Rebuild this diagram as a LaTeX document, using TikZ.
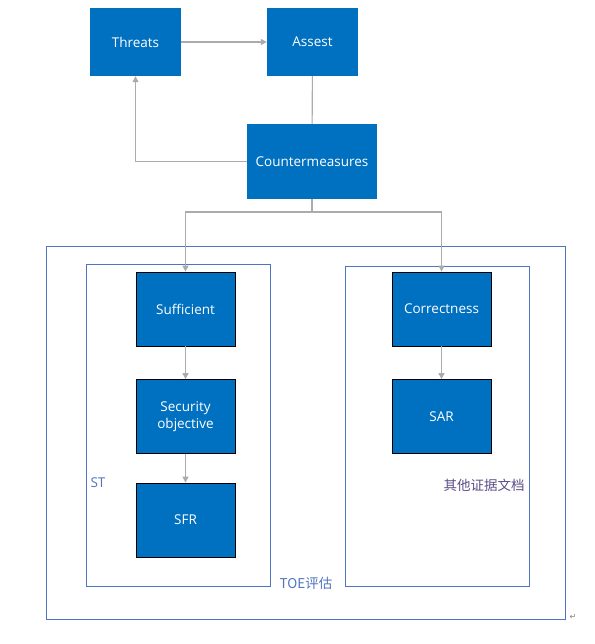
\documentclass[tikz,border=0pt]{standalone}
\usepackage{fontspec}
\setmainfont{Open Sans}
\newfontfamily\cjk{Noto Sans CJK SC}
\newfontfamily\symfont{DejaVu Sans}
\usetikzlibrary{arrows.meta}

\definecolor{boxblue}{HTML}{0070C0}
\definecolor{frameblue}{HTML}{4F74C0}
\definecolor{linegrey}{HTML}{ABABAB}
\definecolor{notepurple}{HTML}{5B4E86}

\begin{document}
\begin{tikzpicture}[x=1pt,y=-1pt,font=\fontsize{13.5}{17}\selectfont]
	\tikzstyle{box}   = [rectangle,fill=boxblue,text=white,minimum width=91pt,minimum height=68pt,inner sep=2pt,align=center]
	\tikzstyle{part}  = [box,draw=black,line width=0.8pt,minimum width=99pt,minimum height=74pt]
	\tikzstyle{frame} = [rectangle,draw=frameblue,line width=1pt]
	\tikzstyle{lbl}   = [text=frameblue,inner sep=1pt]
	\tikzstyle{line}  = [draw=linegrey,line width=1.1pt]
	\tikzstyle{conn}  = [line,-{Triangle[length=6pt,width=6pt]}]

	\useasboundingbox (0,0) rectangle (594,644);

	% frames
	\node[frame,minimum width=519pt,minimum height=373pt] (toe) at (305.5,432.5) {};
	\node[frame,minimum width=184pt,minimum height=322pt] (st) at (178,425) {};
	\node[frame,minimum width=184pt,minimum height=320pt] (other) at (437,426) {};

	% top boxes
	\node[box] (threats) at (135.5,42) {Threats};
	\node[box] (assest) at (312.5,42) {Assest};
	\node[box,minimum width=130pt,minimum height=75pt] (counter) at (312,161.5) {Countermeasures};

	% inner boxes
	\node[part] (suff) at (185.5,309) {Sufficient};
	\node[part] (secobj) at (185.5,416.5) {Security\\objective};
	\node[part] (sfr) at (185.5,520) {SFR};
	\node[part] (correct) at (441.5,309) {Correctness};
	\node[part] (sar) at (441.5,416.5) {SAR};

	% labels
	\node[lbl] (stlabel) at (98,483) {ST};
	\node[lbl] (toelabel) at (306,583) {\cjk TOE评估};
	\node[lbl,text=notepurple] (otherlabel) at (484,485) {\cjk 其他证据文档};
	\node[text=gray,font=\symfont\fontsize{8}{9}\selectfont] (mark) at (573,617) {↵};

	% connectors
	\coordinate (split) at (312,212);
	\path (threats) edge[conn] (assest);
	\draw[line] (assest) -- (counter);
	\draw[conn] (counter.west) -| (threats.south);
	\draw[line] (counter.south) -- (split);
	\draw[conn] (split) -| (suff.north);
	\draw[conn] (split) -| (correct.north);
	\path (suff) edge[conn] (secobj);
	\path (secobj) edge[conn] (sfr);
	\path (correct) edge[conn] (sar);
\end{tikzpicture}
\end{document}
